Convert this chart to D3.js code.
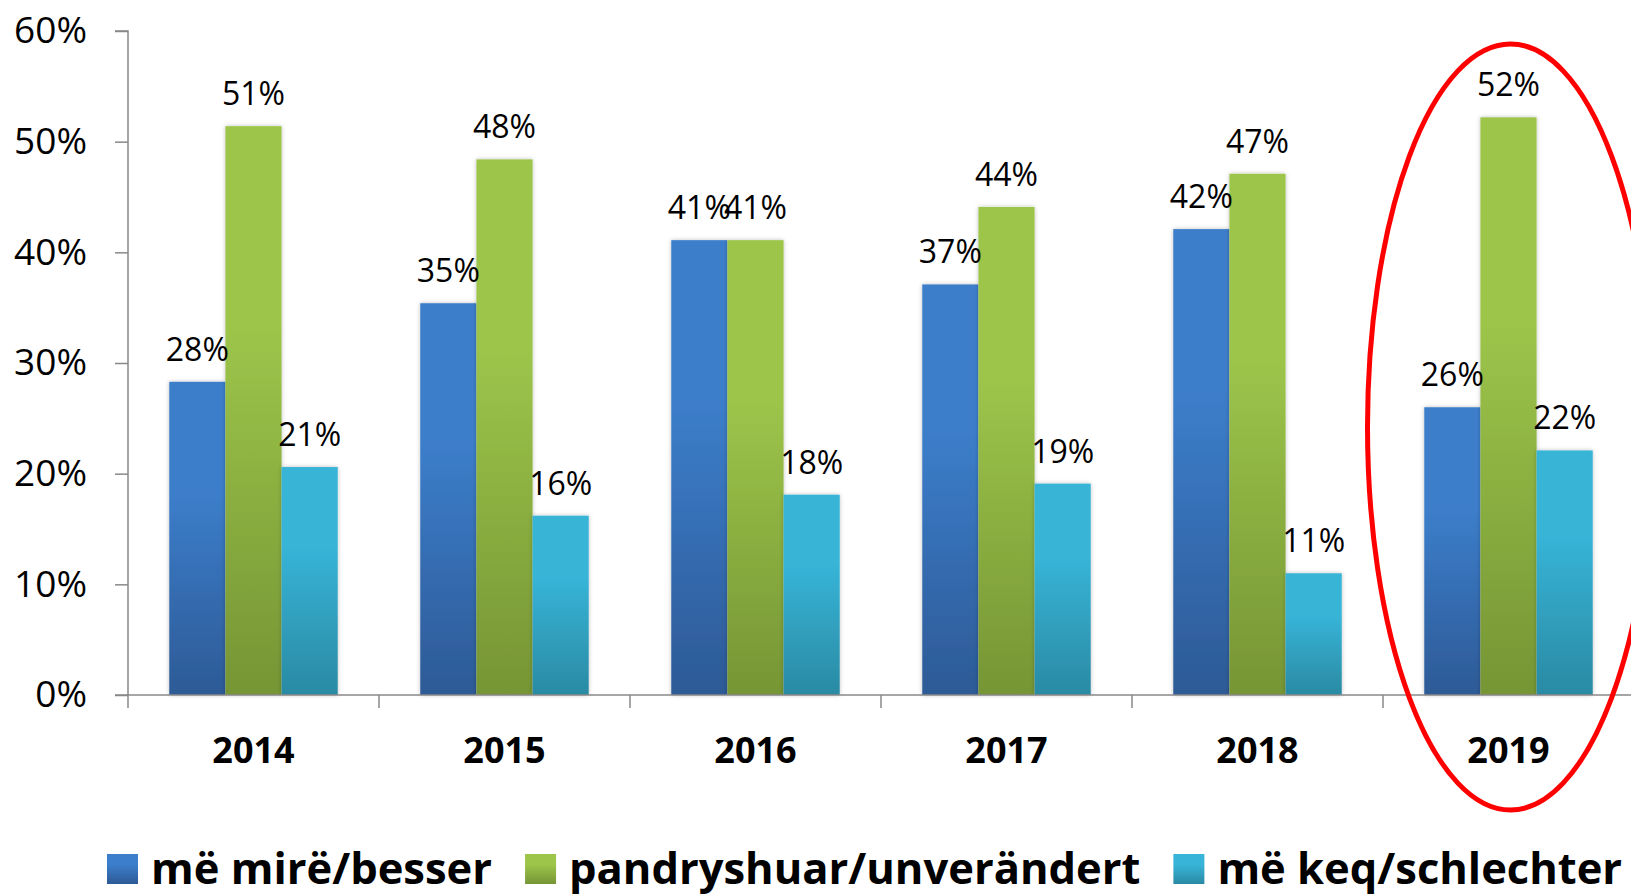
<!DOCTYPE html>
<html>
<head>
<meta charset="utf-8">
<style>
  body { margin: 0; background: #fff; }
  svg { display: block; }
  text { font-family: "Open Sans", "Noto Sans", sans-serif; fill: #000; }
</style>
</head>
<body>
<script src="https://d3js.org/d3.v7.min.js"></script>
<script>
// chart data
var years = ['2014', '2015', '2016', '2017', '2018', '2019'];
var series = ['më mirë/besser', 'pandryshuar/unverändert', 'më keq/schlechter'];
var better    = [28.3, 35.4, 41.1, 37.1, 42.1, 26.0];
var unchanged = [51.4, 48.4, 41.1, 44.1, 47.1, 52.2];
var worse     = [20.6, 16.2, 18.1, 19.1, 11.0, 22.1];
var yTicks = [0, 10, 20, 30, 40, 50, 60];
var highlightYear = '2019';

var values = [better, unchanged, worse];
// gradient stops per series: top, bottom
var colors = [['#3c7ecb', '#2d5a96'], ['#9dc54a', '#769535'], ['#37b4d7', '#2a8aa3']];

var width = 1631, height = 894;
var plotL = 128, plotR = 1634, plotT = 31, plotB = 695;

var svg = d3.select('body').append('svg')
    .attr('width', width)
    .attr('height', height);

var defs = svg.append('defs');
colors.forEach(function(c, i) {
    var g = defs.append('linearGradient')
        .attr('id', 'grad' + i)
        .attr('x1', 0).attr('y1', 0).attr('x2', 0).attr('y2', 1);
    g.append('stop').attr('offset', '0%').attr('stop-color', c[0]);
    g.append('stop').attr('offset', '35%').attr('stop-color', c[0]);
    g.append('stop').attr('offset', '100%').attr('stop-color', c[1]);
});
var f = defs.append('filter').attr('id', 'shadow')
    .attr('x', '-20%').attr('y', '-5%').attr('width', '140%').attr('height', '110%');
f.append('feDropShadow').attr('dx', 0).attr('dy', 0)
    .attr('stdDeviation', 2).attr('flood-color', '#000').attr('flood-opacity', 0.25);

var x0 = d3.scaleBand().domain(years).range([plotL, plotR]).padding(0);
var x1 = d3.scaleBand().domain(d3.range(series.length))
    .range([0, x0.bandwidth()]).paddingInner(0).paddingOuter(0.735);
var y = d3.scaleLinear().domain([0, 60]).range([plotB, plotT]);

// y axis
var yAxis = svg.append('g')
    .attr('transform', 'translate(' + plotL + ',0)')
    .call(d3.axisLeft(y).tickValues(yTicks).tickSize(13).tickPadding(28)
        .tickFormat(function(d) { return d + '%'; }));
yAxis.selectAll('path, line').attr('stroke', '#888').attr('stroke-width', 1.5);
yAxis.select('.domain').attr('d', 'M-13,' + y(60) + 'H0V' + y(0));
yAxis.selectAll('text').attr('font-size', 37).attr('font-family', '"Open Sans", sans-serif')
    .attr('fill', '#000');

// bars
var groups = svg.selectAll('g.year')
    .data(years)
    .enter().append('g')
    .attr('class', 'year')
    .attr('transform', function(d) { return 'translate(' + x0(d) + ',0)'; });

groups.selectAll('rect')
    .data(function(d, i) { return values.map(function(v, s) { return { s: s, v: v[i] }; }); })
    .enter().append('rect')
    .attr('x', function(d) { return x1(d.s); })
    .attr('y', function(d) { return y(d.v); })
    .attr('width', x1.bandwidth())
    .attr('height', function(d) { return y(0) - y(d.v); })
    .attr('fill', function(d) { return 'url(#grad' + d.s + ')'; })
    .attr('filter', 'url(#shadow)');

groups.selectAll('text.val')
    .data(function(d, i) { return values.map(function(v, s) { return { s: s, v: v[i] }; }); })
    .enter().append('text')
    .attr('class', 'val')
    .attr('x', function(d) { return x1(d.s) + x1.bandwidth() / 2; })
    .attr('y', function(d) { return y(d.v) - 21; })
    .attr('text-anchor', 'middle')
    .attr('font-size', 32)
    .text(function(d) { return Math.round(d.v) + '%'; });

// x axis
var xAxis = svg.append('g')
    .attr('transform', 'translate(0,' + plotB + ')')
    .call(d3.axisBottom(x0).tickSize(0).tickPadding(42));
xAxis.select('.domain').attr('d', 'M' + (plotL - 13) + ',0H' + plotR)
    .attr('stroke', '#888').attr('stroke-width', 1.5);
xAxis.selectAll('text').attr('font-size', 36).attr('font-weight', 'bold')
    .attr('font-family', '"Open Sans", sans-serif').attr('fill', '#000');
xAxis.selectAll('line.sep')
    .data(years)
    .enter().append('line')
    .attr('class', 'sep')
    .attr('x1', function(d) { return x0(d); })
    .attr('x2', function(d) { return x0(d); })
    .attr('y1', 0).attr('y2', 13)
    .attr('stroke', '#888').attr('stroke-width', 1.5);

// legend
var legend = svg.append('g').attr('class', 'legend');
var lx = 107;
series.forEach(function(name, i) {
    legend.append('rect')
        .attr('x', lx).attr('y', 854)
        .attr('width', 31).attr('height', 30)
        .attr('fill', 'url(#grad' + i + ')');
    var t = legend.append('text')
        .attr('x', lx + 44).attr('y', 884)
        .attr('font-size', 43.5).attr('font-weight', 'bold')
        .text(name);
    lx = lx + 44 + t.node().getComputedTextLength() + 33;
});

// highlight ring around the last year
var cx = x0(highlightYear) + x0.bandwidth() / 2;
svg.append('ellipse')
    .attr('cx', cx + 2).attr('cy', 427)
    .attr('rx', 143).attr('ry', 383)
    .attr('fill', 'none')
    .attr('stroke', '#ff0000')
    .attr('stroke-width', 5);
</script>
</body>
</html>
